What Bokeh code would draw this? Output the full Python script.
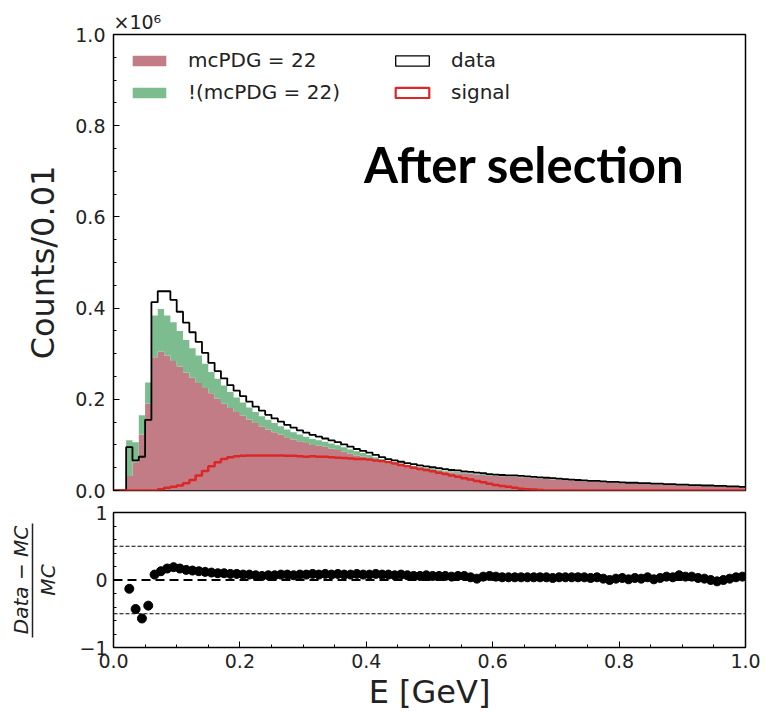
import numpy as np
from bokeh.plotting import figure
from bokeh.models import (ColumnDataSource, Range1d, FixedTicker, PrintfTickFormatter,
                          Legend, LegendItem, Label, Span, LinearAxis)
from bokeh.layouts import column
from bokeh.embed import file_html
from bokeh.resources import INLINE

# ---------------- data (counts in units of 10^6 per 0.01 GeV bin) ----------------
bin_lo, bin_hi, n_bins = 0.0, 1.0, 100

data_counts = [
    0.000, 0.000, 0.095, 0.066, 0.074, 0.155, 0.413, 0.437, 0.437, 0.418,
    0.392, 0.368, 0.347, 0.326, 0.302, 0.280, 0.262, 0.246, 0.231, 0.219,
    0.207, 0.195, 0.184, 0.175, 0.166, 0.158, 0.151, 0.144, 0.138, 0.132,
    0.127, 0.122, 0.118, 0.114, 0.110, 0.106, 0.101, 0.096, 0.091, 0.087,
    0.083, 0.078, 0.073, 0.069, 0.066, 0.063, 0.060, 0.058, 0.055, 0.053,
    0.051, 0.049, 0.047, 0.045, 0.044, 0.042, 0.041, 0.039, 0.038, 0.036,
    0.035, 0.034, 0.033, 0.033, 0.032, 0.031, 0.030, 0.029, 0.028, 0.027,
    0.026, 0.025, 0.024, 0.023, 0.022, 0.021, 0.021, 0.020, 0.019, 0.019,
    0.018, 0.017, 0.017, 0.016, 0.016, 0.015, 0.015, 0.014, 0.014, 0.013,
    0.013, 0.012, 0.012, 0.011, 0.011, 0.010, 0.010, 0.009, 0.009, 0.008,
]

mc_photon = [
    0.000, 0.000, 0.032, 0.062, 0.123, 0.190, 0.292, 0.305, 0.296, 0.284,
    0.272, 0.259, 0.247, 0.236, 0.225, 0.213, 0.201, 0.190, 0.181, 0.172,
    0.164, 0.155, 0.148, 0.140, 0.134, 0.128, 0.123, 0.117, 0.112, 0.108,
    0.104, 0.100, 0.098, 0.096, 0.092, 0.089, 0.085, 0.081, 0.077, 0.074,
    0.070, 0.066, 0.062, 0.059, 0.056, 0.054, 0.051, 0.049, 0.048, 0.046,
    0.044, 0.043, 0.041, 0.039, 0.038, 0.038, 0.036, 0.035, 0.034, 0.032,
    0.032, 0.031, 0.030, 0.030, 0.029, 0.028, 0.027, 0.026, 0.025, 0.024,
    0.024, 0.023, 0.022, 0.021, 0.020, 0.019, 0.019, 0.018, 0.017, 0.017,
    0.016, 0.015, 0.015, 0.014, 0.014, 0.013, 0.013, 0.012, 0.012, 0.011,
    0.011, 0.010, 0.010, 0.009, 0.009, 0.009, 0.009, 0.008, 0.008, 0.007,
]

mc_other = [
    0.000, 0.000, 0.078, 0.044, 0.042, 0.047, 0.092, 0.093, 0.088, 0.085,
    0.078, 0.071, 0.065, 0.060, 0.053, 0.047, 0.044, 0.040, 0.035, 0.032,
    0.029, 0.027, 0.024, 0.023, 0.021, 0.020, 0.018, 0.017, 0.016, 0.015,
    0.014, 0.013, 0.012, 0.011, 0.011, 0.010, 0.010, 0.009, 0.009, 0.008,
    0.008, 0.007, 0.007, 0.006, 0.006, 0.005, 0.005, 0.005, 0.004, 0.004,
    0.004, 0.003, 0.003, 0.003, 0.003, 0.002, 0.002, 0.002, 0.002, 0.002,
    0.001, 0.001, 0.001, 0.001, 0.001, 0.001, 0.001, 0.001, 0.001, 0.001,
    0.001, 0.001, 0.001, 0.001, 0.001, 0.001, 0.001, 0.001, 0.001, 0.001,
    0.001, 0.001, 0.001, 0.001, 0.001, 0.001, 0.001, 0.001, 0.001, 0.001,
    0.001, 0.001, 0.001, 0.001, 0.001, 0.001, 0.001, 0.001, 0.001, 0.001,
]

signal = [
    0.000, 0.000, 0.000, 0.000, 0.000, 0.000, 0.000, 0.003, 0.006, 0.008,
    0.011, 0.016, 0.023, 0.033, 0.043, 0.053, 0.062, 0.069, 0.073, 0.075,
    0.076, 0.077, 0.077, 0.077, 0.077, 0.077, 0.077, 0.076, 0.076, 0.075,
    0.074, 0.075, 0.074, 0.074, 0.073, 0.072, 0.071, 0.070, 0.069, 0.069,
    0.068, 0.066, 0.064, 0.062, 0.059, 0.056, 0.053, 0.050, 0.047, 0.045,
    0.042, 0.039, 0.036, 0.033, 0.030, 0.027, 0.024, 0.021, 0.018, 0.015,
    0.012, 0.010, 0.008, 0.006, 0.004, 0.003, 0.002, 0.001, 0.000, 0.000,
    0.000, 0.000, 0.000, 0.000, 0.000, 0.000, 0.000, 0.000, 0.000, 0.000,
    0.000, 0.000, 0.000, 0.000, 0.000, 0.000, 0.000, 0.000, 0.000, 0.000,
    0.000, 0.000, 0.000, 0.000, 0.000, 0.000, 0.000, 0.000, 0.000, 0.000,
]

nan = float("nan")
ratio = [
    nan, nan, -0.13, -0.43, -0.57, -0.38, 0.08, 0.13, 0.17, 0.19,
    0.17, 0.15, 0.14, 0.13, 0.12, 0.11, 0.10, 0.10, 0.09, 0.09,
    0.08, 0.08, 0.07, 0.06, 0.07, 0.07, 0.08, 0.08, 0.07, 0.08,
    0.08, 0.09, 0.08, 0.09, 0.08, 0.09, 0.08, 0.08, 0.09, 0.08,
    0.08, 0.09, 0.08, 0.08, 0.07, 0.08, 0.07, 0.06, 0.06, 0.07,
    0.06, 0.06, 0.06, 0.05, 0.06, 0.06, 0.04, 0.02, 0.05, 0.06,
    0.05, 0.04, 0.04, 0.04, 0.04, 0.04, 0.04, 0.04, 0.04, 0.03,
    0.04, 0.04, 0.04, 0.04, 0.04, 0.03, 0.04, 0.02, 0.00, 0.02,
    0.03, 0.01, 0.03, 0.02, 0.04, 0.01, 0.03, 0.05, 0.04, 0.07,
    0.05, 0.05, 0.03, 0.02, 0.00, -0.02, 0.00, 0.02, 0.04, 0.05,
]

labels_legend = ["mcPDG = 22", "!(mcPDG = 22)", "data", "signal"]
x_ticks = [0.0, 0.2, 0.4, 0.6, 0.8, 1.0]
y_ticks = [0.0, 0.2, 0.4, 0.6, 0.8, 1.0]
r_ticks = [-1, 0, 1]

# ---------------- styles ----------------
RED_FILL = "#c17c85"
GREEN_FILL = "#7dbc8f"
SIG_COL = "#dd2626"
TXT = "#222222"
FONT = "DejaVu Sans"

edges = np.linspace(bin_lo, bin_hi, n_bins + 1)
centers = 0.5 * (edges[:-1] + edges[1:])

def stepped(vals):
    v = list(vals)
    return v + [v[-1]]

photon_arr = np.array(mc_photon)
stack_top = photon_arr + np.array(mc_other)

xr = Range1d(0, 1)

# ---------------- main panel ----------------
p = figure(width=765, height=501, x_range=xr, y_range=Range1d(0, 1),
           output_backend="svg", toolbar_location=None, x_axis_location=None,
           min_border_left=113, min_border_right=20, min_border_top=34, min_border_bottom=11)
p.background_fill_color = "white"
p.border_fill_color = "white"
p.outline_line_color = "black"
p.outline_line_width = 1.5
p.xgrid.visible = False
p.ygrid.visible = False

p.title.text = "×10⁶"
p.title.align = "left"
p.title.text_font = FONT
p.title.text_font_size = "19px"
p.title.text_font_style = "normal"
p.title.text_color = TXT
p.title.standoff = 4

r_ph = p.varea_step(x=list(edges), y1=[0.0] * (n_bins + 1), y2=stepped(mc_photon),
                    step_mode="after", fill_color=RED_FILL)
r_ot = p.varea_step(x=list(edges), y1=stepped(photon_arr), y2=stepped(stack_top),
                    step_mode="after", fill_color=GREEN_FILL)

p.step(x=list(edges), y=stepped(data_counts), mode="after",
       line_color="black", line_width=1.8)
p.step(x=list(edges), y=stepped(signal), mode="after",
       line_color=SIG_COL, line_width=2.5)

# legend-only outline boxes (placed outside the visible range)
d_dummy = p.quad(left=[5], right=[6], top=[6], bottom=[5], fill_color=None,
                 line_color="black", line_width=1.3)
s_dummy = p.quad(left=[5], right=[6], top=[6], bottom=[5], fill_color=None,
                 line_color=SIG_COL, line_width=2.2)

legend = Legend(items=[LegendItem(label=labels_legend[0], renderers=[r_ph]),
                       LegendItem(label=labels_legend[1], renderers=[r_ot]),
                       LegendItem(label=labels_legend[2], renderers=[d_dummy]),
                       LegendItem(label=labels_legend[3], renderers=[s_dummy])],
                nrows=2, location=(15, 386), orientation="vertical",
                glyph_width=42, glyph_height=13, label_standoff=18, spacing=8,
                label_width=195, padding=0, margin=0,
                border_line_alpha=0, background_fill_alpha=0,
                label_text_font=FONT, label_text_font_size="20px", label_text_color=TXT)
p.add_layout(legend)

p.yaxis.ticker = FixedTicker(ticks=y_ticks, minor_ticks=[round(0.05 * i, 2) for i in range(21)])
p.yaxis.formatter = PrintfTickFormatter(format="%.1f")
p.yaxis.axis_label = "Counts/0.01"
ax = p.yaxis[0]
ax.major_tick_in = 6
ax.major_tick_out = 0
ax.minor_tick_in = 3
ax.minor_tick_out = 0
ax.axis_line_color = "black"
ax.major_label_text_font = FONT
ax.major_label_text_font_size = "19px"
ax.major_label_text_color = TXT
ax.major_label_standoff = 8
ax.axis_label_text_font = FONT
ax.axis_label_text_font_size = "32px"
ax.axis_label_text_font_style = "normal"
ax.axis_label_text_color = TXT
ax.axis_label_standoff = 10

p.add_layout(Label(x=0.65, y=0.717, text="After selection", text_font="Lato",
                   text_font_style="bold", text_font_size="49px", text_color="black",
                   text_align="center", text_baseline="middle"))

# ---------------- ratio panel ----------------
r = figure(width=765, height=215, x_range=xr, y_range=Range1d(-1, 1),
           output_backend="svg", toolbar_location=None,
           min_border_left=113, min_border_right=20, min_border_top=11, min_border_bottom=69)
r.background_fill_color = "white"
r.border_fill_color = "white"
r.outline_line_color = "black"
r.outline_line_width = 1.5
r.xgrid.visible = False
r.ygrid.visible = False

for loc in (0.5, -0.5):
    r.add_layout(Span(location=loc, dimension="width", line_color="black",
                      line_width=1, line_dash="4 2"))
r.add_layout(Span(location=0, dimension="width", line_color="black",
                  line_width=2, line_dash="9 5"))

r.scatter(x=centers, y=ratio, size=9, color="black")

r.xaxis.ticker = FixedTicker(ticks=x_ticks, minor_ticks=[round(0.05 * i, 2) for i in range(21)])
r.xaxis.formatter = PrintfTickFormatter(format="%.1f")
r.xaxis.axis_label = "E [GeV]"
r.yaxis.ticker = FixedTicker(ticks=r_ticks, minor_ticks=[round(-1 + 0.2 * i, 2) for i in range(11)])
r.yaxis.major_label_overrides = {-1: "−1", 0: "0", 1: "1"}
for ax in (r.xaxis[0], r.yaxis[0]):
    ax.major_tick_in = 6
    ax.major_tick_out = 0
    ax.minor_tick_in = 3
    ax.minor_tick_out = 0
    ax.axis_line_color = "black"
    ax.major_label_text_font = FONT
    ax.major_label_text_font_size = "19px"
    ax.major_label_text_color = TXT
    ax.major_label_standoff = 6
r.xaxis.axis_label_text_font = FONT
r.xaxis.axis_label_text_font_size = "32px"
r.xaxis.axis_label_text_font_style = "normal"
r.xaxis.axis_label_text_color = TXT
r.xaxis.axis_label_standoff = 2

# ---------------- ratio y-label: (Data - MC) / MC built from stacked left axes ----------------
def label_axis(text, standoff):
    a = LinearAxis(ticker=FixedTicker(ticks=[]), axis_label=text,
                   axis_line_color=None, major_tick_line_color=None,
                   minor_tick_line_color=None, major_label_standoff=0,
                   axis_label_standoff=standoff, axis_label_text_font=FONT,
                   axis_label_text_font_style="italic",
                   axis_label_text_font_size="20px", axis_label_text_color=TXT)
    return a

den_axis = label_axis("MC", 17)
bar_axis = LinearAxis(ticker=FixedTicker(ticks=[]), bounds=(-0.85, 0.84),
                      axis_line_color=TXT, axis_line_width=1.5,
                      major_tick_line_color=None, minor_tick_line_color=None,
                      major_label_standoff=0)
num_axis = label_axis("Data − MC", 0)
r.add_layout(den_axis, "left")
r.add_layout(bar_axis, "left")
r.add_layout(num_axis, "left")

layout = column(p, r)
open("out.html", "w").write(file_html(layout, INLINE))
